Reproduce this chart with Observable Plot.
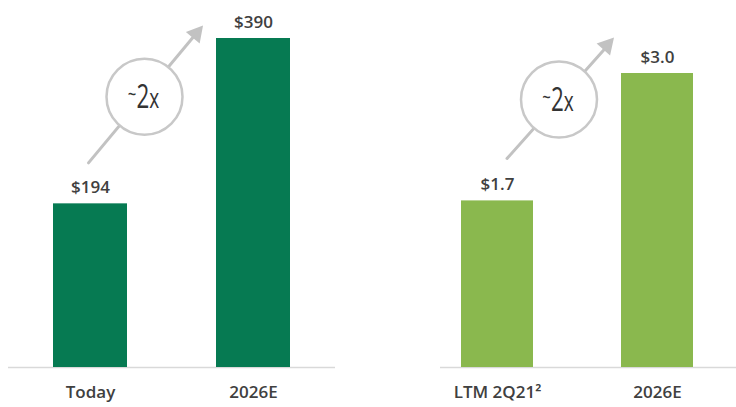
<!DOCTYPE html>
<html>
<head>
<meta charset="utf-8">
<script src="https://cdn.jsdelivr.net/npm/d3@7"></script>
<script src="https://cdn.jsdelivr.net/npm/@observablehq/plot@0.6"></script>
<style>
  body { margin: 0; background: #fff; }
  #wrap { display: flex; width: 736px; height: 407px; overflow: hidden; }
  #wrap svg { display: block; flex: none; }
</style>
</head>
<body>
<div id="wrap"></div>
<script>
// ---- Data ----
const leftCategories = ["Today", "2026E"];
const leftValues = [194, 390];
const leftLabels = ["$194", "$390"];

const rightCategories = ["LTM 2Q21²", "2026E"];
const rightValues = [1.7, 3.0];
const rightLabels = ["$1.7", "$3.0"];

const multipleLabel = "~2x";

// ---- Styles ----
const darkGreen = "#067a52";
const lightGreen = "#8ab84e";
const textColor = "#404040";
const arrowColor = "#c2c2c2";
const circleColor = "#c8c8c8";

function panel(cfg) {
  const data = cfg.categories.map((c, i) => ({cat: c, value: cfg.values[i], label: cfg.labels[i]}));
  const first = [data[0]];
  const last = [data[1]];
  const a = cfg.annot;
  return Plot.plot({
    width: 368,
    height: 407,
    marginTop: cfg.marginTop,
    marginBottom: 40,
    marginLeft: cfg.marginLeft,
    marginRight: cfg.marginRight,
    style: {
      fontFamily: "'Open Sans', 'Noto Sans', sans-serif",
      fontSize: "17px",
      fontWeight: 600,
      color: textColor,
      background: "transparent",
      overflow: "visible"
    },
    x: {
      domain: cfg.categories,
      paddingInner: cfg.paddingInner,
      paddingOuter: cfg.paddingOuter,
      align: cfg.align,
      label: null,
      tickSize: 0,
      tickPadding: 18
    },
    y: { domain: [0, d3.max(cfg.values)], axis: null },
    marks: [
      Plot.ruleY([0], {stroke: "#d9d9d9", strokeWidth: 1.5}),
      Plot.barY(data, {x: "cat", y: "value", fill: cfg.color}),
      Plot.text(data, {x: "cat", y: "value", text: "label", lineAnchor: "bottom", dy: -11, fontSize: 17, fontWeight: 600, fill: textColor}),
      // growth arrow shaft
      Plot.vector(first, {
        x: "cat", y: "value", dx: a.lineDx, dy: a.lineDy,
        anchor: "start", length: a.lineLength, rotate: a.angle,
        r: 0, stroke: arrowColor, strokeWidth: 3
      }),
      // growth arrow head
      Plot.vector(last, {
        x: "cat", y: "value", dx: a.tipDx, dy: a.tipDy,
        anchor: "end", shape: "spike", length: 16, r: 9, rotate: a.angle,
        fill: arrowColor, stroke: "none"
      }),
      // multiple badge
      Plot.dot(first, {
        x: "cat", y: "value", dx: a.circleDx, dy: a.circleDy,
        r: 38, fill: "white", stroke: circleColor, strokeWidth: 2.5
      }),
      Plot.text(first, {
        x: "cat", y: "value", dx: a.circleDx - 1, dy: a.circleDy,
        text: () => multipleLabel,
        fontSize: 33, fontWeight: 400, fill: "#333333"
      })
    ]
  });
}

// Style the "~2x" badge text: small raised tilde, tall narrow digit, smaller x.
function styleBadge(svg) {
  d3.select(svg).selectAll("text").filter(function () {
    return this.textContent === multipleLabel;
  }).each(function () {
    this.removeAttribute("y");
    this.removeAttribute("dy");
    const tr = this.getAttribute("transform") || "";
    this.setAttribute("transform", tr + " scale(0.68,1)");
    const t = d3.select(this);
    t.text(null);
    t.append("tspan").attr("dy", 5).attr("font-size", 22).text("~");
    t.append("tspan").attr("dy", 6).attr("font-size", 33).text("2");
    t.append("tspan").attr("font-size", 28).text("x");
  });
  return svg;
}

const left = styleBadge(panel({
  categories: leftCategories, values: leftValues, labels: leftLabels, color: darkGreen,
  marginTop: 38, marginLeft: 8, marginRight: 33,
  paddingInner: 0.547, paddingOuter: 0.2735, align: 0.5,
  annot: {lineDx: -2, lineDy: -41, lineLength: 167, angle: 39.8,
          tipDx: -50.5, tipDy: -13, circleDx: 54, circleDy: -107}
}));

const right = styleBadge(panel({
  categories: rightCategories, values: rightValues, labels: rightLabels, color: lightGreen,
  marginTop: 73, marginLeft: 72, marginRight: 0,
  paddingInner: 0.547, paddingOuter: 0.193, align: 0.338,
  annot: {lineDx: 9.5, lineDy: -42.4, lineLength: 149, angle: 41.75,
          tipDx: -43.5, tipDy: -36, circleDx: 61.5, circleDy: -101.4}
}));

const wrap = document.getElementById("wrap");
wrap.appendChild(left);
wrap.appendChild(right);
</script>
</body>
</html>
